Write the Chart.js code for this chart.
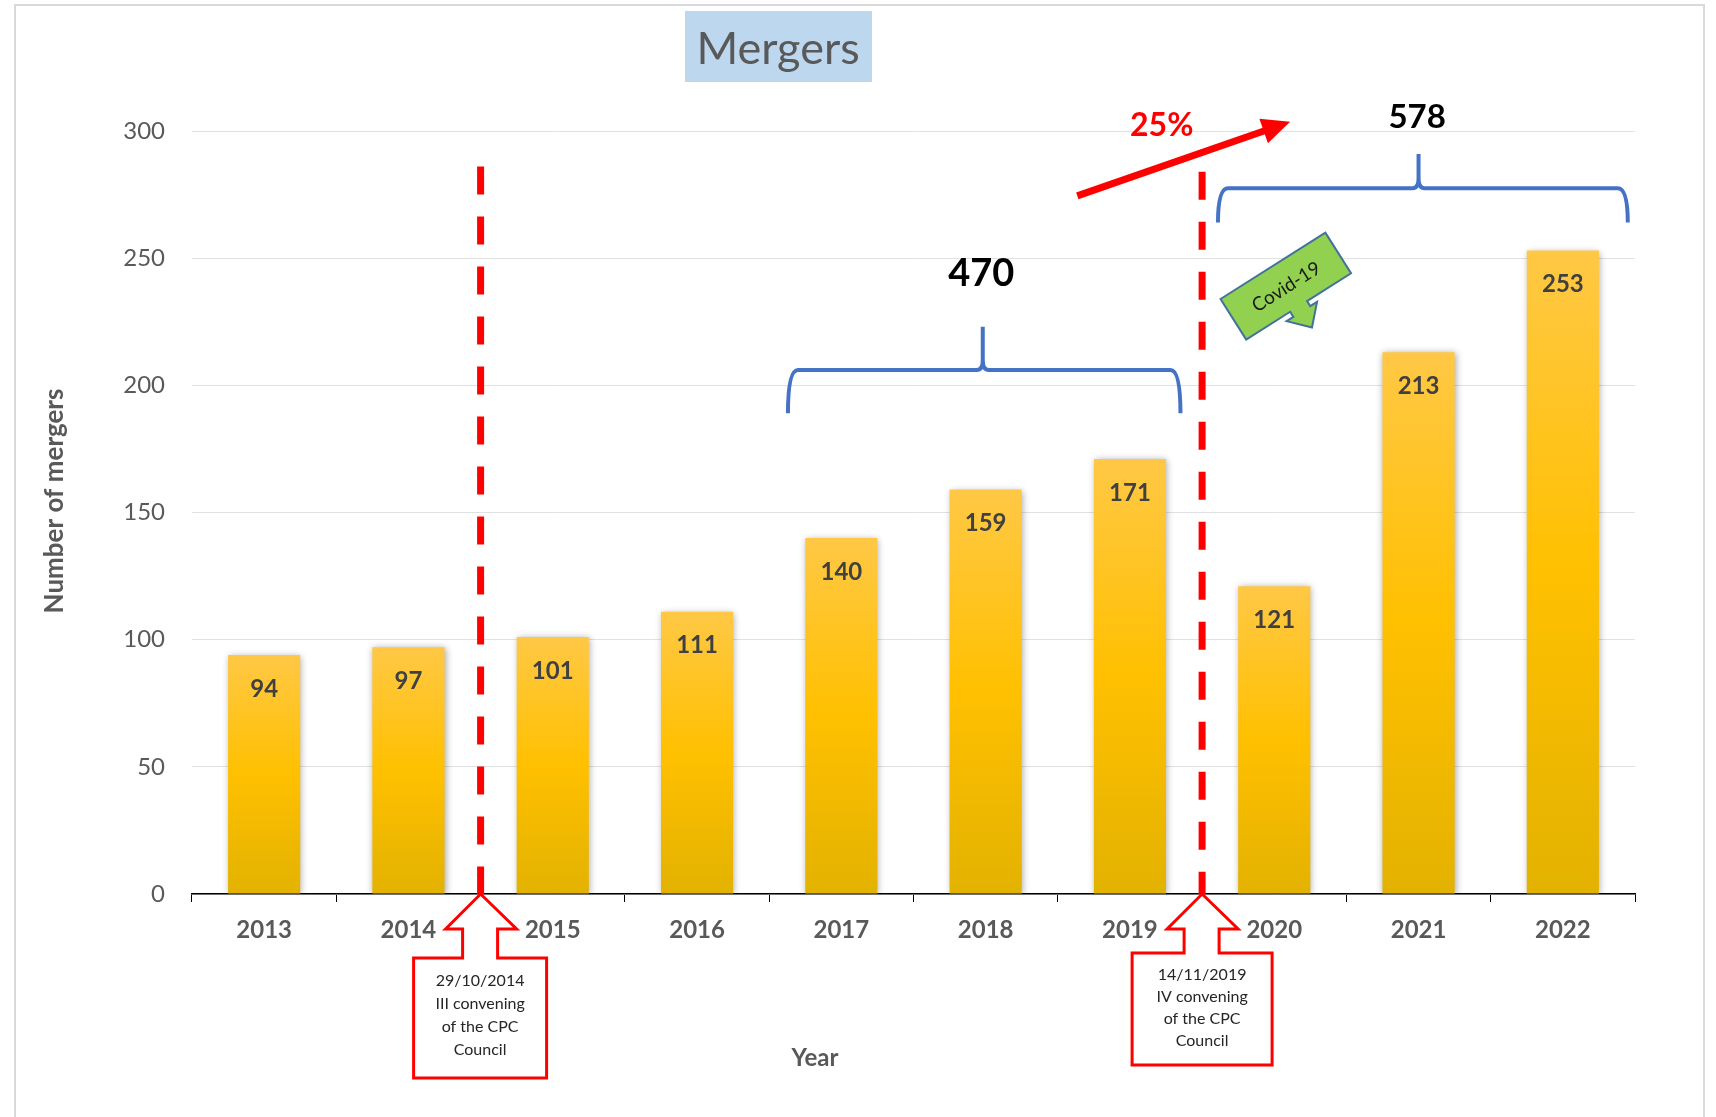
<!DOCTYPE html>
<html>
<head>
<meta charset="utf-8">
<script src="https://cdn.jsdelivr.net/npm/chart.js@4.4.1/dist/chart.umd.min.js"></script>
<style>
  html, body { margin: 0; padding: 0; background: #fff; }
  #wrap { position: relative; width: 1716px; height: 1117px; }
</style>
</head>
<body>
<div id="wrap"><canvas id="mergersChart"></canvas></div>
<script>
const years = ['2013', '2014', '2015', '2016', '2017', '2018', '2019', '2020', '2021', '2022'];
const mergers = [94, 97, 101, 111, 140, 159, 171, 121, 213, 253];
const periodTotals = ['470', '578'];
const growthLabel = '25%';
const covidLabel = 'Covid-19';
const conveningNotes = [
  ['29/10/2014', 'III convening', 'of the CPC', 'Council'],
  ['14/11/2019', 'IV convening', 'of the CPC', 'Council'],
];

const FONT = 'Lato, "Open Sans", sans-serif';
const GREY = '#595959';
const RED = '#ff0000';
const BLUE = '#4472c4';

// annotation anchors, in data units (x = category index, y = number of mergers)
const conveningAt = [1.5, 6.5];
const conveningTop = [286, 284];
const calloutBoxes = [
  { l: -67, r: 66, t: 64, b: 184, text: 87, gap: 23 },
  { l: -70, r: 70, t: 59, b: 171, text: 81, gap: 22 },
];
const braces = [
  { from: 3.63, to: 6.35, mid: 4.98, y: 206, end: 189, peak: 223, labelX: 4.97, labelY: 244, size: 38 },
  { from: 6.61, to: 9.45, mid: 8, y: 277.5, end: 264, peak: 291, labelX: 7.99, labelY: 305.5, size: 33 },
];

function drawBrace(ctx, xs, ys, b) {
  const x1 = xs.getPixelForValue(b.from), x2 = xs.getPixelForValue(b.to);
  const xm = xs.getPixelForValue(b.mid);
  const yh = ys.getPixelForValue(b.y), ye = ys.getPixelForValue(b.end), yp = ys.getPixelForValue(b.peak);
  const r = 10;
  ctx.beginPath();
  ctx.moveTo(x1, ye);
  ctx.quadraticCurveTo(x1, yh, x1 + r, yh);
  ctx.lineTo(xm - 6, yh);
  ctx.quadraticCurveTo(xm, yh, xm, yh - 10);
  ctx.lineTo(xm, yp);
  ctx.moveTo(x2, ye);
  ctx.quadraticCurveTo(x2, yh, x2 - r, yh);
  ctx.lineTo(xm + 6, yh);
  ctx.quadraticCurveTo(xm, yh, xm, yh - 10);
  ctx.stroke();
}

function drawCallout(ctx, x, y0, box, lines) {
  ctx.beginPath();
  ctx.moveTo(x, y0);
  ctx.lineTo(x + 36, y0 + 35);
  ctx.lineTo(x + 17, y0 + 35);
  ctx.lineTo(x + 17, y0 + box.t);
  ctx.lineTo(x + box.r, y0 + box.t);
  ctx.lineTo(x + box.r, y0 + box.b);
  ctx.lineTo(x + box.l, y0 + box.b);
  ctx.lineTo(x + box.l, y0 + box.t);
  ctx.lineTo(x - 18, y0 + box.t);
  ctx.lineTo(x - 18, y0 + 35);
  ctx.lineTo(x - 35, y0 + 35);
  ctx.closePath();
  ctx.fillStyle = '#fff';
  ctx.fill();
  ctx.strokeStyle = RED;
  ctx.lineWidth = 3;
  ctx.lineJoin = 'miter';
  ctx.stroke();
  ctx.fillStyle = '#262626';
  ctx.font = `16px ${FONT}`;
  ctx.textAlign = 'center';
  ctx.textBaseline = 'middle';
  lines.forEach((t, i) => ctx.fillText(t, x + (box.l + box.r) / 2, y0 + box.text + i * box.gap));
}

const annotations = {
  id: 'annotations',
  beforeDraw(chart) {
    const { ctx } = chart;
    ctx.save();
    ctx.fillStyle = '#fff';
    ctx.fillRect(0, 0, chart.width, chart.height);
    ctx.strokeStyle = '#d9d9d9';
    ctx.lineWidth = 2;
    ctx.strokeRect(15, 5, 1689, 1200);
    ctx.fillStyle = '#bdd7ee';
    ctx.fillRect(685, 11, 187, 71);
    ctx.fillStyle = GREY;
    ctx.font = `45px ${FONT}`;
    ctx.textAlign = 'center';
    ctx.textBaseline = 'middle';
    ctx.fillText('Mergers', 778, 49);
    // axis titles
    ctx.font = `bold 24px ${FONT}`;
    ctx.fillText('Year', 815, 1058);
    ctx.translate(55, 501);
    ctx.rotate(-Math.PI / 2);
    ctx.font = `bold 26px ${FONT}`;
    ctx.fillText('Number of mergers', 0, 0);
    ctx.restore();
  },
  beforeDatasetsDraw(chart) {
    const { ctx } = chart;
    ctx.save();
    ctx.shadowColor = 'rgba(0,0,0,0.35)';
    ctx.shadowBlur = 7;
    ctx.shadowOffsetX = 1;
    ctx.shadowOffsetY = 1;
  },
  afterDatasetsDraw(chart) {
    const { ctx } = chart;
    ctx.restore();
    const xs = chart.scales.x, ys = chart.scales.y;
    ctx.save();
    // value labels
    ctx.fillStyle = '#404040';
    ctx.font = `bold 24px ${FONT}`;
    ctx.textAlign = 'center';
    ctx.textBaseline = 'middle';
    chart.getDatasetMeta(0).data.forEach((bar, i) => ctx.fillText(mergers[i], bar.x, bar.y + 34));

    // convening dates, dashed
    ctx.strokeStyle = RED;
    ctx.lineWidth = 7;
    ctx.setLineDash([28, 22]);
    conveningAt.forEach((at, i) => {
      const x = xs.getPixelForValue(at);
      ctx.beginPath();
      ctx.moveTo(x, ys.getPixelForValue(conveningTop[i]));
      ctx.lineTo(x, ys.getPixelForValue(0));
      ctx.stroke();
    });
    ctx.setLineDash([]);

    // period braces and totals
    ctx.strokeStyle = BLUE;
    ctx.lineWidth = 4;
    ctx.lineCap = 'butt';
    braces.forEach((b, i) => {
      drawBrace(ctx, xs, ys, b);
      ctx.fillStyle = '#000';
      ctx.font = `bold ${b.size}px ${FONT}`;
      ctx.fillText(periodTotals[i], xs.getPixelForValue(b.labelX), ys.getPixelForValue(b.labelY));
    });

    // growth arrow
    const ax1 = xs.getPixelForValue(5.635), ay1 = ys.getPixelForValue(274.5);
    const ax2 = xs.getPixelForValue(7.11), ay2 = ys.getPixelForValue(303.6);
    const ang = Math.atan2(ay2 - ay1, ax2 - ax1);
    ctx.strokeStyle = RED;
    ctx.fillStyle = RED;
    ctx.lineWidth = 7;
    ctx.beginPath();
    ctx.moveTo(ax1, ay1);
    ctx.lineTo(ax2 - 24 * Math.cos(ang), ay2 - 24 * Math.sin(ang));
    ctx.stroke();
    ctx.beginPath();
    ctx.moveTo(ax2, ay2);
    ctx.lineTo(ax2 - 28 * Math.cos(ang) + 13 * Math.sin(ang), ay2 - 28 * Math.sin(ang) - 13 * Math.cos(ang));
    ctx.lineTo(ax2 - 28 * Math.cos(ang) - 13 * Math.sin(ang), ay2 - 28 * Math.sin(ang) + 13 * Math.cos(ang));
    ctx.closePath();
    ctx.fill();
    ctx.font = `bold 32px ${FONT}`;
    ctx.fillText(growthLabel, xs.getPixelForValue(6.22), ys.getPixelForValue(302));

    // covid callout
    ctx.translate(xs.getPixelForValue(7.08), ys.getPixelForValue(239));
    ctx.rotate(-32.3 * Math.PI / 180);
    ctx.beginPath();
    ctx.moveTo(-62, -24);
    ctx.lineTo(62, -24);
    ctx.lineTo(62, 24);
    ctx.lineTo(10, 24);
    ctx.lineTo(10, 30);
    ctx.lineTo(18, 30);
    ctx.lineTo(0, 49);
    ctx.lineTo(-18, 30);
    ctx.lineTo(-10, 30);
    ctx.lineTo(-10, 24);
    ctx.lineTo(-62, 24);
    ctx.closePath();
    ctx.fillStyle = '#92d050';
    ctx.fill();
    ctx.strokeStyle = '#41719c';
    ctx.lineWidth = 2;
    ctx.stroke();
    ctx.fillStyle = '#1a1a1a';
    ctx.font = `19px ${FONT}`;
    ctx.fillText(covidLabel, 0, 1);
    ctx.restore();
  },
  afterDraw(chart) {
    const { ctx } = chart;
    const xs = chart.scales.x, ys = chart.scales.y;
    ctx.save();
    conveningAt.forEach((at, i) => {
      drawCallout(ctx, xs.getPixelForValue(at), ys.getPixelForValue(0), calloutBoxes[i], conveningNotes[i]);
    });
    ctx.restore();
  },
};

function barGradient(context) {
  const chart = context.chart;
  if (!chart.chartArea) return '#ffc000';
  const ys = chart.scales.y;
  const top = ys.getPixelForValue(context.raw);
  const bottom = ys.getPixelForValue(0);
  const g = chart.ctx.createLinearGradient(0, top, 0, bottom);
  g.addColorStop(0, '#ffc845');
  g.addColorStop(0.5, '#ffc000');
  g.addColorStop(1, '#e3b200');
  return g;
}

new Chart(document.getElementById('mergersChart'), {
  type: 'bar',
  data: {
    labels: years,
    datasets: [{
      label: 'Mergers',
      data: mergers,
      backgroundColor: barGradient,
      borderWidth: 0,
      categoryPercentage: 1,
      barPercentage: 0.5,
    }],
  },
  options: {
    responsive: true,
    maintainAspectRatio: false,
    animation: false,
    layout: { padding: { top: 131, right: 81, left: 0, bottom: 0 } },
    plugins: {
      legend: { display: false },
      tooltip: { enabled: false },
    },
    scales: {
      x: {
        afterFit: (s) => { s.height = 223; },
        grid: { drawOnChartArea: false, drawTicks: true, tickLength: 8, color: '#000', offset: true },
        border: { color: '#000', width: 1.5 },
        ticks: { color: GREY, font: { family: FONT, size: 24, weight: 'bold' }, padding: 14 },
      },
      y: {
        min: 0,
        max: 300,
        afterFit: (s) => { s.width = 192; },
        grid: { color: '#e1e1e1', drawTicks: false },
        border: { display: false },
        ticks: { stepSize: 50, color: GREY, font: { family: FONT, size: 24 }, padding: 27 },
      },
    },
  },
  plugins: [annotations],
});
</script>
</body>
</html>
